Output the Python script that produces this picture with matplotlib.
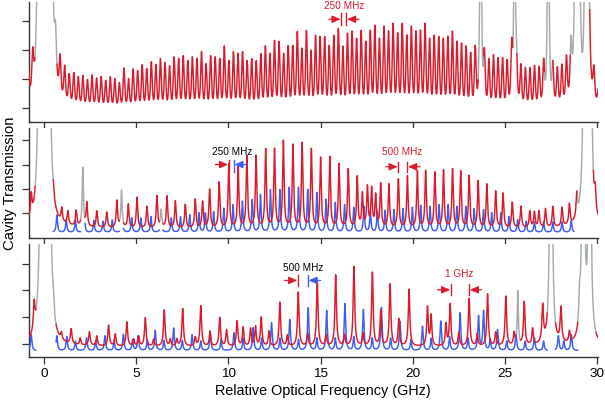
import numpy as np
import matplotlib.pyplot as plt

plt.rcParams['font.family'] = ['Liberation Sans', 'DejaVu Sans']

# frequency axis (GHz)
freq_min, freq_max = -0.82, 30.05
x_ticks = [0, 5, 10, 15, 20, 25, 30]
y_ticks = [0, 1, 2, 3]

RED = '#dc1a2b'
BLUE = '#3d5cf0'
GRAY = '#a3abab'

# ---- top panel: 250 MHz comb (red), one height per tooth ----
p1_start = -0.865
p1_spacing = 0.2475
p1_red_tops = [
    1.31, 1.20, 1.03, 1.03, 1.03, 1.03,
    1.31, 1.24, 1.14, 0.97, 1.07, 0.97, 1.03, 0.90, 1.07, 0.97, 1.03, 0.90,
    1.03, 0.97, 0.83, 1.34, 0.97, 1.31, 1.24, 1.45, 1.31, 1.55, 1.45, 1.66,
    1.52, 1.41, 1.72, 1.66, 1.76, 1.59, 1.72, 1.66,
    1.90, 1.48, 1.76, 1.72, 1.66, 2.10, 1.59, 1.90, 1.83, 1.90, 1.59, 1.66,
    1.59, 1.83, 2.10, 1.83, 2.28, 2.24, 1.83, 2.10, 2.10, 2.59, 2.00, 2.62,
    1.93, 2.45, 2.41, 2.41, 2.10, 2.45, 2.69, 2.07, 2.52, 2.59, 2.34, 2.62,
    2.24, 2.62, 2.79, 2.34, 2.76, 2.59, 2.86, 2.52,
    2.86, 2.45, 2.76, 2.59, 2.62, 2.86, 2.34, 2.45, 2.41, 2.34, 2.41, 2.59,
    2.24, 2.17, 2.07, 1.83, 2.00,
    1.90,
    1.72, 1.59, 1.76, 1.66, 1.66, 1.55, 1.90,
    1.66,
    1.38, 1.31, 1.31, 1.38, 1.31, 1.41,
    1.31,
    1.31, 1.24, 1.31, 1.50,
    1.66, 1.66, 1.66, 1.66,
    1.30, 1.00, 0.50,
]
p1_red_base = -0.05
p1_gray_centers = [-0.2, 0.3, 23.7, 25.52, 27.35, 28.9, 29.45]
p1_gray_heights = [25, 25, 12, 12, 12, 15, 15]
p1_gray_widths = [0.07, 0.08, 0.03, 0.03, 0.035, 0.07, 0.06]
p1_gray_spans = [(-0.5, 0.7), (23.55, 23.85), (25.42, 25.65), (27.15, 27.6), (28.55, 29.6)]

# ---- middle panel: 500 MHz comb (red) and shifted comb (blue) ----
p2_red_pos = [-0.7, 0.5, 0.96, 1.29, 1.74, 2.32, 2.86, 3.4, 3.95, 4.57, 5.04, 5.58,
              6.12, 6.67, 7.12, 7.66, 8.2, 8.6, 8.98, 9.5, 10.02, 10.53, 11.0,
              11.5, 12.02, 12.5, 12.98, 13.5, 14.0, 14.5, 15.0, 15.5, 16.0, 16.5,
              16.99, 17.27, 17.54, 17.77, 17.99, 18.26, 18.71, 19.22, 19.71,
              20.25, 20.7, 21.2, 21.67, 22.16, 22.6, 23.06, 23.55, 24.02, 24.5,
              24.9, 25.4, 25.87, 26.35, 26.6, 26.85, 27.2, 27.6, 28.1, 28.5,
              28.9, 29.9]
p2_red_tops = [0.26, -0.36, -0.07, -0.07, 0.01, 0.34, 0.05, 0.01, 0.48, 0.34, 0.63,
               0.26, 0.68, 0.68, 0.48, 0.34, 0.55, 0.45, 0.95, 1.24, 1.98, 1.86,
               2.31, 2.31, 2.59, 2.59, 2.92, 2.76, 2.84, 2.59, 2.23, 2.27, 1.98,
               1.77, 1.45, 0.75, 1.02, 0.95, 0.68, 1.16, 1.16, 1.36, 1.5, 1.7,
               1.7, 1.64, 1.73, 1.77, 1.68, 1.5, 1.3, 1.16, 0.87, 0.79, 0.42,
               0.26, 0.05, 0.01, 0.05, 0.14, 0.22, 0.14, 0.22, 0.34, 0.2]
p2_red_base = -0.62
p2_blue_pos = [0.69, 1.2, 1.7, 2.2, 2.7, 3.2, 3.7, 4.25, 4.75, 5.25, 5.8, 6.35, 6.9,
               7.4, 7.9, 8.4, 8.75, 9.2, 9.75, 10.25, 10.76, 11.29, 11.74, 12.28,
               12.79, 13.3, 13.8, 14.3, 14.8, 15.3, 15.8, 16.3, 16.8, 17.35, 17.7,
               18.08, 18.5, 18.98, 19.47, 19.98, 20.43, 20.94, 21.43, 21.92, 22.39,
               22.88, 23.33, 23.84, 24.28, 24.78, 25.22, 25.69, 26.15, 26.6, 27.1,
               27.6, 28.1, 28.6]
p2_blue_tops = [-0.07, -0.27, -0.3, -0.33, -0.3, -0.33, -0.28, -0.2, -0.19, -0.2,
                -0.14, -0.15, -0.19, -0.15, -0.07, 0.01, 0.0, 0.05, 0.2, 0.34, 0.48,
                0.55, 0.75, 0.95, 0.95, 1.04, 1.04, 0.95, 0.83, 0.55, 0.42, 0.34,
                0.22, 0.27, 0.07, 0.07, 0.1, 0.14, 0.18, 0.23, 0.31, 0.27, 0.34,
                0.34, 0.27, 0.27, 0.18, 0.14, 0.01, 0.01, -0.14, -0.27, -0.34,
                -0.36, -0.36, -0.36, -0.36, -0.3]
p2_blue_base = -0.78
p2_blue_extent = (0.5, 28.75)
p2_gray_centers = [-0.2, 0.22, 2.1, 4.2, 6.35, 29.35, 29.62]
p2_gray_heights = [25, 25, 2.4, 1.5, 0.7, 25, 25]
p2_gray_widths = [0.07, 0.07, 0.04, 0.04, 0.04, 0.06, 0.05]
p2_gray_spans = [(-0.48, 0.5), (1.98, 2.22), (4.08, 4.32), (6.25, 6.45), (28.9, 29.8)]

# ---- bottom panel: 1 GHz comb (red) and 500 MHz shifted comb (blue) ----
p3_red_pos = [-0.54, 0.5, 1.47, 2.46, 3.5, 4.49, 5.49, 6.52, 7.52, 8.5, 9.53, 10.47,
              11.78, 12.79, 13.79, 14.82, 15.82, 16.81, 17.81, 18.77, 19.8, 20.8,
              22.03, 23.06, 24.06, 25.05, 26.05, 27.05, 28.04, 29.05]
p3_red_tops = [0.9, 0.46, 0.46, 0.41, 0.67, 0.8, 0.96, 1.25, 1.3, 1.4, 0.97, 0.84,
               0.97, 1.54, 1.92, 2.3, 2.55, 2.87, 2.65, 2.21, 2.02, 1.35, 1.46, 1.67,
               1.84, 1.75, 1.52, 1.24, 1.17, 1.0]
p3_red_small_pos = [0.94, 1.96, 2.86, 3.86, 4.86, 5.13, 5.94, 6.85, 7.2, 8.2, 9.0, 9.9,
                    10.8, 11.2, 11.47, 12.2, 13.2, 14.3, 15.3, 16.3, 17.3, 18.26,
                    19.24, 21.0, 21.8, 22.5, 23.5, 24.5, 25.5, 26.5, 27.55, 28.5]
p3_red_small_tops = [0.15, 0.15, 0.26, 0.34, 0.15, 0.26, 0.15, 0.15, 0.15, 0.22, 0.45,
                     0.5, 0.6, 0.55, 0.62, 0.45, 0.3, 0.35, 0.3, 0.3, 0.35, 1.21, 0.9,
                     1.02, 0.71, 0.4, 0.35, 0.4, 0.35, 0.5, 0.6, 0.3]
p3_red_base = -0.1
p3_blue_pos = [-0.7, 0.69, 1.23, 2.3, 3.3, 4.3, 5.1, 6.03, 7.03, 8.03, 9.02, 10.3,
               11.34, 12.34, 13.33, 14.33, 15.33, 16.32, 17.32, 18.3, 19.31, 20.53,
               21.52, 22.57, 23.57, 23.84, 24.6, 25.6, 26.6, 27.9, 28.6]
p3_blue_tops = [0.34, 0.3, 0.27, 0.22, 0.3, 0.35, 0.3, 0.5, 0.59, 0.34, 0.34, 0.41,
                0.6, 0.78, 0.9, 1.34, 1.24, 1.49, 1.27, 1.35, 0.84, 0.65, 0.84, 1.15,
                1.02, 1.21, 0.52, 0.34, 0.22, 0.3, 0.34]
p3_blue_small_pos = [1.7, 2.8, 3.8, 4.8, 5.6, 6.5, 7.5, 8.5, 9.6, 10.8, 11.8, 12.8,
                     13.8, 14.8, 15.8, 16.8, 17.8, 18.8, 19.9, 21.0, 22.0, 23.0, 24.2,
                     25.1, 26.1, 27.1, 28.2]
p3_blue_small_tops = [0.1, 0.12, 0.1, 0.15, 0.15, 0.12, 0.12, 0.1, 0.15, 0.2, 0.2, 0.2,
                      0.15, 0.2, 0.2, 0.25, 0.2, 0.2, 0.15, 0.2, 0.25, 0.2, 0.15, 0.1,
                      0.1, 0.1, 0.1]
p3_blue_base = -0.25
p3_blue_extent = (-0.82, 29.0)
p3_gray_centers = [-0.1, 0.25, 25.7, 27.5, 29.25, 29.6]
p3_gray_heights = [25, 25, 2.0, 20, 20, 20]
p3_gray_widths = [0.07, 0.06, 0.035, 0.05, 0.05, 0.05]
p3_gray_spans = [(-0.45, 0.65), (25.55, 25.85), (27.3, 27.75), (28.95, 29.95)]

# spacing markers: label, label colour, label position, bars (x, colour, arrow tail x),
# bar bottom, bar top, arrow height
p1_marks = [("250 MHz", RED, (16.26, 3.52),
             [(16.12, RED, 15.45), (16.40, RED, 17.08)], 2.86, 3.28, 3.06)]
p2_marks = [("250 MHz", 'black', (10.2, 2.5),
             [(10.02, RED, 9.29), (10.29, BLUE, 11.02)], 1.71, 2.18, 2.0),
            ("500 MHz", RED, (19.44, 2.5),
             [(19.22, RED, 18.53), (19.71, RED, 20.4)], 1.69, 2.1, 1.91)]
p3_marks = [("500 MHz", 'black', (14.06, 2.84),
             [(13.77, RED, 13.04), (14.31, BLUE, 15.0)], 2.15, 2.58, 2.37),
            ("1 GHz", RED, (22.52, 2.62),
             [(22.07, RED, 21.34), (23.06, RED, 23.73)], 1.84, 2.25, 2.02)]

freq = np.arange(freq_min, freq_max, 0.004)


def lorentz_sum(centers, amps, width, power=1):
    """Sum of cavity resonances (Lorentzian, or squared Lorentzian for power=2)."""
    c = np.asarray(centers, dtype=float)[:, None]
    a = np.asarray(amps, dtype=float)[:, None]
    w = np.broadcast_to(np.asarray(width, dtype=float), c.shape[:1])[:, None]
    return (a / (1 + ((freq - c) / w) ** 2) ** power).sum(axis=0)


def span_mask(spans):
    mask = np.zeros(freq.shape, dtype=bool)
    for lo, hi in spans:
        mask |= (freq >= lo) & (freq <= hi)
    return mask


def draw_trace(ax, y, gray_spans, color):
    """Draws y in colour, switching to gray inside the spans."""
    mask = span_mask(gray_spans)
    grow = mask | np.roll(mask, 1) | np.roll(mask, -1)
    ax.plot(freq, np.where(grow, y, np.nan), color=GRAY, lw=1.05, zorder=2)
    ax.plot(freq, np.where(mask, np.nan, y), color=color, lw=1.05, zorder=4)


def draw_blue(ax, y, extent, gray_spans):
    keep = (freq >= extent[0]) & (freq <= extent[1]) & ~span_mask(gray_spans)
    ax.plot(freq, np.where(keep, y, np.nan), color=BLUE, lw=1.05, zorder=3)


def add_marks(ax, marks):
    for label, lcolor, (tx, ty), bars, y0, y1, ya in marks:
        ax.text(tx, ty, label, color=lcolor, fontsize=7.2, ha='center', va='center')
        for bx, bcolor, tail in bars:
            ax.plot([bx, bx], [y0, y1], color=bcolor, lw=1.0, zorder=6)
            ax.annotate('', xy=(bx, ya), xytext=(tail, ya), zorder=6,
                        arrowprops=dict(arrowstyle='-|>,head_length=0.5,head_width=0.22',
                                        color=bcolor, lw=0.9, shrinkA=0, shrinkB=0.5))


def style_axis(ax, ylim, show_labels):
    ax.set_xlim(freq_min, freq_max)
    ax.set_ylim(*ylim)
    ax.set_xticks(x_ticks)
    ax.set_yticks(y_ticks)
    for side in ('top', 'right'):
        ax.spines[side].set_visible(False)
    for side in ('left', 'bottom'):
        ax.spines[side].set_color('#333333')
        ax.spines[side].set_linewidth(1.0)
    ax.tick_params(direction='out', length=5, width=0.9, color='#333333',
                   labelleft=False, labelbottom=show_labels, labelsize=9.7, pad=3)


fig = plt.figure(figsize=(6.05, 4.01), dpi=100)
left, width = 0.0479, 0.9405

# top panel
ax1 = fig.add_axes([left, 0.6958, width, 0.2992])
p1_pos = p1_start + p1_spacing * np.arange(len(p1_red_tops))
y1 = (p1_red_base
      + lorentz_sum(p1_pos, np.array(p1_red_tops) - p1_red_base, 0.085, power=2)
      + lorentz_sum(p1_gray_centers, p1_gray_heights, p1_gray_widths))
draw_trace(ax1, y1, p1_gray_spans, RED)
add_marks(ax1, p1_marks)
style_axis(ax1, (-0.483, 3.655), False)

# middle panel
ax2 = fig.add_axes([left, 0.4072, width, 0.2748])
y2 = (p2_red_base + lorentz_sum(p2_red_pos, np.array(p2_red_tops) - p2_red_base, 0.045)
      + lorentz_sum(p2_gray_centers, p2_gray_heights, p2_gray_widths))
b2 = p2_blue_base + lorentz_sum(p2_blue_pos, np.array(p2_blue_tops) - p2_blue_base, 0.04)
draw_blue(ax2, b2, p2_blue_extent, p2_gray_spans)
draw_trace(ax2, y2, p2_gray_spans, RED)
add_marks(ax2, p2_marks)
style_axis(ax2, (-1.0, 3.52), False)

# bottom panel
ax3 = fig.add_axes([left, 0.1097, width, 0.2806])
y3 = (p3_red_base
      + lorentz_sum(p3_red_pos, np.array(p3_red_tops) - p3_red_base, 0.05)
      + lorentz_sum(p3_red_small_pos, np.array(p3_red_small_tops) - p3_red_base, 0.045)
      + lorentz_sum(p3_gray_centers, p3_gray_heights, p3_gray_widths))
b3 = (p3_blue_base
      + lorentz_sum(p3_blue_pos, np.array(p3_blue_tops) - p3_blue_base, 0.045)
      + lorentz_sum(p3_blue_small_pos, np.array(p3_blue_small_tops) - p3_blue_base, 0.04))
draw_blue(ax3, b3, p3_blue_extent, p3_gray_spans[:1] + p3_gray_spans[2:])
draw_trace(ax3, y3, p3_gray_spans, RED)
add_marks(ax3, p3_marks)
style_axis(ax3, (-0.487, 3.71), True)

fig.text(0.0165, 0.543, 'Cavity Transmission', rotation=90, fontsize=10.7,
         ha='center', va='center')
fig.text(0.533, 0.024, 'Relative Optical Frequency (GHz)', fontsize=10.4,
         ha='center', va='center')

fig.savefig('out.png', dpi=100)
